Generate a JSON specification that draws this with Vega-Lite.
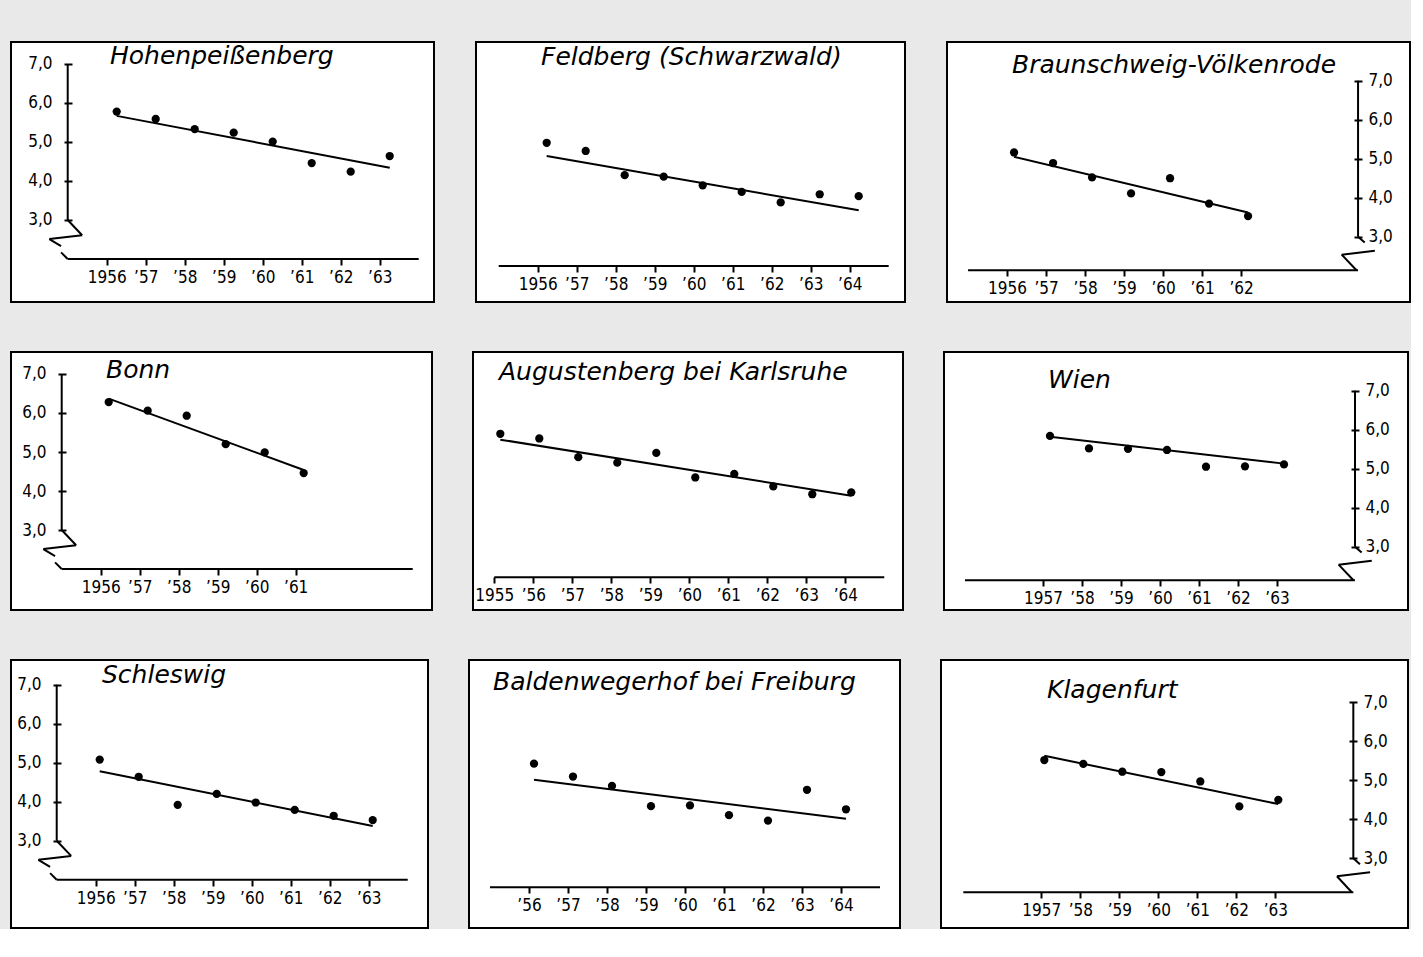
{
  "$schema": "https://vega.github.io/schema/vega-lite/v6.json",
  "background": "#e9e9e9",
  "padding": {"left": 10, "top": 41, "right": 0, "bottom": 0},
  "datasets": {
    "points": [
      {"station": "Hohenpeißenberg", "year": 1956, "value": 5.78},
      {"station": "Hohenpeißenberg", "year": 1957, "value": 5.59},
      {"station": "Hohenpeißenberg", "year": 1958, "value": 5.33},
      {"station": "Hohenpeißenberg", "year": 1959, "value": 5.24},
      {"station": "Hohenpeißenberg", "year": 1960, "value": 5.01},
      {"station": "Hohenpeißenberg", "year": 1961, "value": 4.46},
      {"station": "Hohenpeißenberg", "year": 1962, "value": 4.24},
      {"station": "Hohenpeißenberg", "year": 1963, "value": 4.64},
      {"station": "Feldberg (Schwarzwald)", "year": 1956, "value": 5.16},
      {"station": "Feldberg (Schwarzwald)", "year": 1957, "value": 4.95},
      {"station": "Feldberg (Schwarzwald)", "year": 1958, "value": 4.33},
      {"station": "Feldberg (Schwarzwald)", "year": 1959, "value": 4.29},
      {"station": "Feldberg (Schwarzwald)", "year": 1960, "value": 4.07},
      {"station": "Feldberg (Schwarzwald)", "year": 1961, "value": 3.9},
      {"station": "Feldberg (Schwarzwald)", "year": 1962, "value": 3.63},
      {"station": "Feldberg (Schwarzwald)", "year": 1963, "value": 3.84},
      {"station": "Feldberg (Schwarzwald)", "year": 1964, "value": 3.79},
      {"station": "Braunschweig-Völkenrode", "year": 1956, "value": 5.16},
      {"station": "Braunschweig-Völkenrode", "year": 1957, "value": 4.89},
      {"station": "Braunschweig-Völkenrode", "year": 1958, "value": 4.52},
      {"station": "Braunschweig-Völkenrode", "year": 1959, "value": 4.11},
      {"station": "Braunschweig-Völkenrode", "year": 1960, "value": 4.5},
      {"station": "Braunschweig-Völkenrode", "year": 1961, "value": 3.85},
      {"station": "Braunschweig-Völkenrode", "year": 1962, "value": 3.53},
      {"station": "Bonn", "year": 1956, "value": 6.28},
      {"station": "Bonn", "year": 1957, "value": 6.06},
      {"station": "Bonn", "year": 1958, "value": 5.93},
      {"station": "Bonn", "year": 1959, "value": 5.2},
      {"station": "Bonn", "year": 1960, "value": 4.99},
      {"station": "Bonn", "year": 1961, "value": 4.46},
      {"station": "Augustenberg bei Karlsruhe", "year": 1955, "value": 5.68},
      {"station": "Augustenberg bei Karlsruhe", "year": 1956, "value": 5.56},
      {"station": "Augustenberg bei Karlsruhe", "year": 1957, "value": 5.08},
      {"station": "Augustenberg bei Karlsruhe", "year": 1958, "value": 4.94},
      {"station": "Augustenberg bei Karlsruhe", "year": 1959, "value": 5.19},
      {"station": "Augustenberg bei Karlsruhe", "year": 1960, "value": 4.56},
      {"station": "Augustenberg bei Karlsruhe", "year": 1961, "value": 4.65},
      {"station": "Augustenberg bei Karlsruhe", "year": 1962, "value": 4.33},
      {"station": "Augustenberg bei Karlsruhe", "year": 1963, "value": 4.13},
      {"station": "Augustenberg bei Karlsruhe", "year": 1964, "value": 4.18},
      {"station": "Wien", "year": 1957, "value": 5.84},
      {"station": "Wien", "year": 1958, "value": 5.52},
      {"station": "Wien", "year": 1959, "value": 5.51},
      {"station": "Wien", "year": 1960, "value": 5.48},
      {"station": "Wien", "year": 1961, "value": 5.05},
      {"station": "Wien", "year": 1962, "value": 5.06},
      {"station": "Wien", "year": 1963, "value": 5.11},
      {"station": "Schleswig", "year": 1956, "value": 5.08},
      {"station": "Schleswig", "year": 1957, "value": 4.64},
      {"station": "Schleswig", "year": 1958, "value": 3.92},
      {"station": "Schleswig", "year": 1959, "value": 4.2},
      {"station": "Schleswig", "year": 1960, "value": 3.98},
      {"station": "Schleswig", "year": 1961, "value": 3.79},
      {"station": "Schleswig", "year": 1962, "value": 3.64},
      {"station": "Schleswig", "year": 1963, "value": 3.53},
      {"station": "Baldenwegerhof bei Freiburg", "year": 1956, "value": 5.17},
      {"station": "Baldenwegerhof bei Freiburg", "year": 1957, "value": 4.84},
      {"station": "Baldenwegerhof bei Freiburg", "year": 1958, "value": 4.6},
      {"station": "Baldenwegerhof bei Freiburg", "year": 1959, "value": 4.08},
      {"station": "Baldenwegerhof bei Freiburg", "year": 1960, "value": 4.1},
      {"station": "Baldenwegerhof bei Freiburg", "year": 1961, "value": 3.85},
      {"station": "Baldenwegerhof bei Freiburg", "year": 1962, "value": 3.71},
      {"station": "Baldenwegerhof bei Freiburg", "year": 1963, "value": 4.5},
      {"station": "Baldenwegerhof bei Freiburg", "year": 1964, "value": 4.0},
      {"station": "Klagenfurt", "year": 1957, "value": 5.52},
      {"station": "Klagenfurt", "year": 1958, "value": 5.42},
      {"station": "Klagenfurt", "year": 1959, "value": 5.22},
      {"station": "Klagenfurt", "year": 1960, "value": 5.21},
      {"station": "Klagenfurt", "year": 1961, "value": 4.97},
      {"station": "Klagenfurt", "year": 1962, "value": 4.33},
      {"station": "Klagenfurt", "year": 1963, "value": 4.5}
    ],
    "trend": [
      {"station": "Hohenpeißenberg", "year": 1956, "value": 5.67},
      {"station": "Hohenpeißenberg", "year": 1963, "value": 4.34},
      {"station": "Feldberg (Schwarzwald)", "year": 1956, "value": 4.82},
      {"station": "Feldberg (Schwarzwald)", "year": 1964, "value": 3.43},
      {"station": "Braunschweig-Völkenrode", "year": 1956, "value": 5.05},
      {"station": "Braunschweig-Völkenrode", "year": 1962, "value": 3.62},
      {"station": "Bonn", "year": 1956, "value": 6.37},
      {"station": "Bonn", "year": 1961, "value": 4.54},
      {"station": "Augustenberg bei Karlsruhe", "year": 1955, "value": 5.53},
      {"station": "Augustenberg bei Karlsruhe", "year": 1964, "value": 4.09},
      {"station": "Wien", "year": 1957, "value": 5.82},
      {"station": "Wien", "year": 1963, "value": 5.13},
      {"station": "Schleswig", "year": 1956, "value": 4.78},
      {"station": "Schleswig", "year": 1963, "value": 3.38},
      {"station": "Baldenwegerhof bei Freiburg", "year": 1956, "value": 4.76},
      {"station": "Baldenwegerhof bei Freiburg", "year": 1964, "value": 3.76},
      {"station": "Klagenfurt", "year": 1957, "value": 5.63},
      {"station": "Klagenfurt", "year": 1963, "value": 4.39}
    ]
  },
  "vconcat": [
    {
      "spacing": 40,
      "hconcat": [
        {
          "width": 423, "height": 260,
          "title": {"text": "Hohenpeißenberg", "dx": 99, "offset": -27},
          "layer": [
            {"data": {"name": "points"}, "transform": [{"filter": "datum.station == 'Hohenpeißenberg'"}],
             "mark": {"type": "circle", "xOffset": 10},
             "encoding": {
               "x": {"field": "year", "type": "quantitative", "scale": {"domain": [1953.546, 1964.392], "nice": false, "zero": false},
                     "axis": {"title": null, "values": [1956, 1957, 1958, 1959, 1960, 1961, 1962, 1963], "offset": -43, "labelExpr": "datum.value == 1956 ? '1956' : '’' + substring(toString(datum.value), 2)"}},
               "y": {"field": "value", "type": "quantitative", "scale": {"domain": [0.897, 7.564], "nice": false, "zero": false},
                     "axis": {"title": null, "values": [3, 4, 5, 6, 7], "orient": "left", "offset": -61, "labelPadding": 12, "labelExpr": "replace(format(datum.value, '.1f'), '.', ',')"}}
             }},
            {"data": {"name": "trend"}, "transform": [{"filter": "datum.station == 'Hohenpeißenberg'"}],
             "mark": {"type": "line", "xOffset": 10},
             "encoding": {"x": {"field": "year", "type": "quantitative"}, "y": {"field": "value", "type": "quantitative"}}},
            {"data": {"values": [{}]}, "mark": "rule", "encoding": {"x": {"datum": 1955, "type": "quantitative"}, "y": {"datum": 3, "type": "quantitative"}, "y2": {"datum": 7}}},
            {"data": {"values": [{}]}, "mark": "rule", "encoding": {"x": {"datum": 1955, "type": "quantitative"}, "x2": {"datum": 1964}, "y": {"datum": 2, "type": "quantitative"}}},
            {"data": {"values": [{}]}, "mark": "rule", "encoding": {"x": {"datum": 1955, "type": "quantitative"}, "x2": {"datum": 1955.37}, "y": {"datum": 3, "type": "quantitative"}, "y2": {"datum": 2.61}}},
            {"data": {"values": [{}]}, "mark": "rule", "encoding": {"x": {"datum": 1955.37, "type": "quantitative"}, "x2": {"datum": 1954.53}, "y": {"datum": 2.61, "type": "quantitative"}, "y2": {"datum": 2.51}}},
            {"data": {"values": [{}]}, "mark": "rule", "encoding": {"x": {"datum": 1954.53, "type": "quantitative"}, "x2": {"datum": 1954.83}, "y": {"datum": 2.51, "type": "quantitative"}, "y2": {"datum": 2.33}}},
            {"data": {"values": [{}]}, "mark": "rule", "encoding": {"x": {"datum": 1954.83, "type": "quantitative"}, "x2": {"datum": 1955}, "y": {"datum": 2.17, "type": "quantitative"}, "y2": {"datum": 2.0}}}
          ]
        },
        {
          "width": 429, "height": 260,
          "title": {"text": "Feldberg (Schwarzwald)", "dx": 65, "offset": -28},
          "layer": [
            {"data": {"name": "points"}, "transform": [{"filter": "datum.station == 'Feldberg (Schwarzwald)'"}],
             "mark": {"type": "circle", "xOffset": 9},
             "encoding": {
               "x": {"field": "year", "type": "quantitative", "scale": {"domain": [1954.418, 1965.418], "nice": false, "zero": false},
                     "axis": {"title": null, "values": [1956, 1957, 1958, 1959, 1960, 1961, 1962, 1963, 1964], "offset": -36, "labelExpr": "datum.value == 1956 ? '1956' : '’' + substring(toString(datum.value), 2)"}},
               "y": {"field": "value", "type": "quantitative", "scale": {"domain": [1.077, 7.744], "nice": false, "zero": false}, "axis": null}
             }},
            {"data": {"name": "trend"}, "transform": [{"filter": "datum.station == 'Feldberg (Schwarzwald)'"}],
             "mark": {"type": "line", "xOffset": 9},
             "encoding": {"x": {"field": "year", "type": "quantitative"}, "y": {"field": "value", "type": "quantitative", "axis": null}}},
            {"data": {"values": [{}]}, "mark": "rule", "encoding": {"x": {"datum": 1955, "type": "quantitative"}, "x2": {"datum": 1965}, "y": {"datum": 2, "type": "quantitative", "axis": null}}}
          ]
        },
        {
          "width": 463, "height": 260,
          "title": {"text": "Braunschweig-Völkenrode", "dx": 65, "offset": -36},
          "layer": [
            {"data": {"name": "points"}, "transform": [{"filter": "datum.station == 'Braunschweig-Völkenrode'"}],
             "mark": {"type": "circle", "xOffset": 7},
             "encoding": {
               "x": {"field": "year", "type": "quantitative", "scale": {"domain": [1954.46, 1966.332], "nice": false, "zero": false},
                     "axis": {"title": null, "values": [1956, 1957, 1958, 1959, 1960, 1961, 1962], "offset": -32, "labelExpr": "datum.value == 1956 ? '1956' : '’' + substring(toString(datum.value), 2)"}},
               "y": {"field": "value", "type": "quantitative", "scale": {"domain": [1.326, 7.993], "nice": false, "zero": false},
                     "axis": {"title": null, "values": [3, 4, 5, 6, 7], "orient": "right", "offset": -56, "labelPadding": 6, "labelExpr": "replace(format(datum.value, '.1f'), '.', ',')"}}
             }},
            {"data": {"name": "trend"}, "transform": [{"filter": "datum.station == 'Braunschweig-Völkenrode'"}],
             "mark": {"type": "line", "xOffset": 7},
             "encoding": {"x": {"field": "year", "type": "quantitative"}, "y": {"field": "value", "type": "quantitative"}}},
            {"data": {"values": [{}]}, "mark": "rule", "encoding": {"x": {"datum": 1965, "type": "quantitative"}, "y": {"datum": 3, "type": "quantitative"}, "y2": {"datum": 7}}},
            {"data": {"values": [{}]}, "mark": "rule", "encoding": {"x": {"datum": 1955, "type": "quantitative"}, "x2": {"datum": 1965}, "y": {"datum": 2.14, "type": "quantitative"}}},
            {"data": {"values": [{}]}, "mark": "rule", "encoding": {"x": {"datum": 1965, "type": "quantitative"}, "x2": {"datum": 1965.17}, "y": {"datum": 3, "type": "quantitative"}, "y2": {"datum": 2.85}}},
            {"data": {"values": [{}]}, "mark": "rule", "encoding": {"x": {"datum": 1965.43, "type": "quantitative"}, "x2": {"datum": 1964.58}, "y": {"datum": 2.64, "type": "quantitative"}, "y2": {"datum": 2.54}}},
            {"data": {"values": [{}]}, "mark": "rule", "encoding": {"x": {"datum": 1964.58, "type": "quantitative"}, "x2": {"datum": 1964.96}, "y": {"datum": 2.54, "type": "quantitative"}, "y2": {"datum": 2.14}}}
          ]
        }
      ]
    },
    {
      "spacing": 39,
      "hconcat": [
        {
          "width": 421, "height": 258,
          "title": {"text": "Bonn", "dx": 95, "offset": -31},
          "layer": [
            {"data": {"name": "points"}, "transform": [{"filter": "datum.station == 'Bonn'"}],
             "mark": {"type": "circle", "xOffset": 8},
             "encoding": {
               "x": {"field": "year", "type": "quantitative", "scale": {"domain": [1953.7, 1964.495], "nice": false, "zero": false},
                     "axis": {"title": null, "values": [1956, 1957, 1958, 1959, 1960, 1961], "offset": -41, "labelExpr": "datum.value == 1956 ? '1956' : '’' + substring(toString(datum.value), 2)"}},
               "y": {"field": "value", "type": "quantitative", "scale": {"domain": [0.949, 7.564], "nice": false, "zero": false},
                     "axis": {"title": null, "values": [3, 4, 5, 6, 7], "orient": "left", "offset": -55, "labelPadding": 12, "labelExpr": "replace(format(datum.value, '.1f'), '.', ',')"}}
             }},
            {"data": {"name": "trend"}, "transform": [{"filter": "datum.station == 'Bonn'"}],
             "mark": {"type": "line", "xOffset": 8},
             "encoding": {"x": {"field": "year", "type": "quantitative"}, "y": {"field": "value", "type": "quantitative"}}},
            {"data": {"values": [{}]}, "mark": "rule", "encoding": {"x": {"datum": 1955, "type": "quantitative"}, "y": {"datum": 3, "type": "quantitative"}, "y2": {"datum": 7}}},
            {"data": {"values": [{}]}, "mark": "rule", "encoding": {"x": {"datum": 1955, "type": "quantitative"}, "x2": {"datum": 1964}, "y": {"datum": 2, "type": "quantitative"}}},
            {"data": {"values": [{}]}, "mark": "rule", "encoding": {"x": {"datum": 1955, "type": "quantitative"}, "x2": {"datum": 1955.37}, "y": {"datum": 3, "type": "quantitative"}, "y2": {"datum": 2.61}}},
            {"data": {"values": [{}]}, "mark": "rule", "encoding": {"x": {"datum": 1955.37, "type": "quantitative"}, "x2": {"datum": 1954.53}, "y": {"datum": 2.61, "type": "quantitative"}, "y2": {"datum": 2.51}}},
            {"data": {"values": [{}]}, "mark": "rule", "encoding": {"x": {"datum": 1954.53, "type": "quantitative"}, "x2": {"datum": 1954.83}, "y": {"datum": 2.51, "type": "quantitative"}, "y2": {"datum": 2.33}}},
            {"data": {"values": [{}]}, "mark": "rule", "encoding": {"x": {"datum": 1954.83, "type": "quantitative"}, "x2": {"datum": 1955}, "y": {"datum": 2.17, "type": "quantitative"}, "y2": {"datum": 2.0}}}
          ]
        },
        {
          "width": 430, "height": 258,
          "title": {"text": "Augustenberg bei Karlsruhe", "dx": 26, "offset": -33},
          "layer": [
            {"data": {"name": "points"}, "transform": [{"filter": "datum.station == 'Augustenberg bei Karlsruhe'"}],
             "mark": {"type": "circle", "xOffset": 6},
             "encoding": {
               "x": {"field": "year", "type": "quantitative", "scale": {"domain": [1954.454, 1965.48], "nice": false, "zero": false},
                     "axis": {"title": null, "values": [1955, 1956, 1957, 1958, 1959, 1960, 1961, 1962, 1963, 1964], "offset": -33, "labelExpr": "datum.value == 1955 ? '1955' : '’' + substring(toString(datum.value), 2)"}},
               "y": {"field": "value", "type": "quantitative", "scale": {"domain": [1.162, 7.777], "nice": false, "zero": false}, "axis": null}
             }},
            {"data": {"name": "trend"}, "transform": [{"filter": "datum.station == 'Augustenberg bei Karlsruhe'"}],
             "mark": {"type": "line", "xOffset": 6},
             "encoding": {"x": {"field": "year", "type": "quantitative"}, "y": {"field": "value", "type": "quantitative", "axis": null}}},
            {"data": {"values": [{}]}, "mark": "rule", "encoding": {"x": {"datum": 1955, "type": "quantitative"}, "x2": {"datum": 1965}, "y": {"datum": 2, "type": "quantitative", "axis": null}}}
          ]
        },
        {
          "width": 464, "height": 258,
          "title": {"text": "Wien", "dx": 104, "offset": -41},
          "layer": [
            {"data": {"name": "points"}, "transform": [{"filter": "datum.station == 'Wien'"}],
             "mark": {"type": "circle", "xOffset": 7},
             "encoding": {
               "x": {"field": "year", "type": "quantitative", "scale": {"domain": [1954.462, 1966.359], "nice": false, "zero": false},
                     "axis": {"title": null, "values": [1957, 1958, 1959, 1960, 1961, 1962, 1963], "offset": -30, "labelExpr": "datum.value == 1957 ? '1957' : '’' + substring(toString(datum.value), 2)"}},
               "y": {"field": "value", "type": "quantitative", "scale": {"domain": [1.377, 7.992], "nice": false, "zero": false},
                     "axis": {"title": null, "values": [3, 4, 5, 6, 7], "orient": "right", "offset": -57, "labelPadding": 6, "labelExpr": "replace(format(datum.value, '.1f'), '.', ',')"}}
             }},
            {"data": {"name": "trend"}, "transform": [{"filter": "datum.station == 'Wien'"}],
             "mark": {"type": "line", "xOffset": 7},
             "encoding": {"x": {"field": "year", "type": "quantitative"}, "y": {"field": "value", "type": "quantitative"}}},
            {"data": {"values": [{}]}, "mark": "rule", "encoding": {"x": {"datum": 1965, "type": "quantitative"}, "y": {"datum": 3, "type": "quantitative"}, "y2": {"datum": 7}}},
            {"data": {"values": [{}]}, "mark": "rule", "encoding": {"x": {"datum": 1955, "type": "quantitative"}, "x2": {"datum": 1965}, "y": {"datum": 2.14, "type": "quantitative"}}},
            {"data": {"values": [{}]}, "mark": "rule", "encoding": {"x": {"datum": 1965, "type": "quantitative"}, "x2": {"datum": 1965.17}, "y": {"datum": 3, "type": "quantitative"}, "y2": {"datum": 2.85}}},
            {"data": {"values": [{}]}, "mark": "rule", "encoding": {"x": {"datum": 1965.43, "type": "quantitative"}, "x2": {"datum": 1964.58}, "y": {"datum": 2.64, "type": "quantitative"}, "y2": {"datum": 2.54}}},
            {"data": {"values": [{}]}, "mark": "rule", "encoding": {"x": {"datum": 1964.58, "type": "quantitative"}, "x2": {"datum": 1964.96}, "y": {"datum": 2.54, "type": "quantitative"}, "y2": {"datum": 2.14}}}
          ]
        }
      ]
    },
    {
      "spacing": 39,
      "hconcat": [
        {
          "width": 417, "height": 268,
          "title": {"text": "Schleswig", "dx": 91, "offset": -28},
          "layer": [
            {"data": {"name": "points"}, "transform": [{"filter": "datum.station == 'Schleswig'"}],
             "mark": {"type": "circle", "xOffset": 4},
             "encoding": {
               "x": {"field": "year", "type": "quantitative", "scale": {"domain": [1953.828, 1964.52], "nice": false, "zero": false},
                     "axis": {"title": null, "values": [1956, 1957, 1958, 1959, 1960, 1961, 1962, 1963], "offset": -48, "labelExpr": "datum.value == 1956 ? '1956' : '’' + substring(toString(datum.value), 2)"}},
               "y": {"field": "value", "type": "quantitative", "scale": {"domain": [0.762, 7.634], "nice": false, "zero": false},
                     "axis": {"title": null, "values": [3, 4, 5, 6, 7], "orient": "left", "offset": -50, "labelPadding": 12, "labelExpr": "replace(format(datum.value, '.1f'), '.', ',')"}}
             }},
            {"data": {"name": "trend"}, "transform": [{"filter": "datum.station == 'Schleswig'"}],
             "mark": {"type": "line", "xOffset": 4},
             "encoding": {"x": {"field": "year", "type": "quantitative"}, "y": {"field": "value", "type": "quantitative"}}},
            {"data": {"values": [{}]}, "mark": "rule", "encoding": {"x": {"datum": 1955, "type": "quantitative"}, "y": {"datum": 3, "type": "quantitative"}, "y2": {"datum": 7}}},
            {"data": {"values": [{}]}, "mark": "rule", "encoding": {"x": {"datum": 1955, "type": "quantitative"}, "x2": {"datum": 1964}, "y": {"datum": 2, "type": "quantitative"}}},
            {"data": {"values": [{}]}, "mark": "rule", "encoding": {"x": {"datum": 1955, "type": "quantitative"}, "x2": {"datum": 1955.37}, "y": {"datum": 3, "type": "quantitative"}, "y2": {"datum": 2.61}}},
            {"data": {"values": [{}]}, "mark": "rule", "encoding": {"x": {"datum": 1955.37, "type": "quantitative"}, "x2": {"datum": 1954.53}, "y": {"datum": 2.61, "type": "quantitative"}, "y2": {"datum": 2.51}}},
            {"data": {"values": [{}]}, "mark": "rule", "encoding": {"x": {"datum": 1954.53, "type": "quantitative"}, "x2": {"datum": 1954.83}, "y": {"datum": 2.51, "type": "quantitative"}, "y2": {"datum": 2.33}}},
            {"data": {"values": [{}]}, "mark": "rule", "encoding": {"x": {"datum": 1954.83, "type": "quantitative"}, "x2": {"datum": 1955}, "y": {"datum": 2.17, "type": "quantitative"}, "y2": {"datum": 2.0}}}
          ]
        },
        {
          "width": 431, "height": 268,
          "title": {"text": "Baldenwegerhof bei Freiburg", "dx": 24, "offset": -35},
          "layer": [
            {"data": {"name": "points"}, "transform": [{"filter": "datum.station == 'Baldenwegerhof bei Freiburg'"}],
             "mark": {"type": "circle", "xOffset": 5},
             "encoding": {
               "x": {"field": "year", "type": "quantitative", "scale": {"domain": [1954.462, 1965.513], "nice": false, "zero": false},
                     "axis": {"title": null, "values": [1956, 1957, 1958, 1959, 1960, 1961, 1962, 1963, 1964], "offset": -41, "labelExpr": "'’' + substring(toString(datum.value), 2)"}},
               "y": {"field": "value", "type": "quantitative", "scale": {"domain": [0.956, 7.828], "nice": false, "zero": false}, "axis": null}
             }},
            {"data": {"name": "trend"}, "transform": [{"filter": "datum.station == 'Baldenwegerhof bei Freiburg'"}],
             "mark": {"type": "line", "xOffset": 5},
             "encoding": {"x": {"field": "year", "type": "quantitative"}, "y": {"field": "value", "type": "quantitative", "axis": null}}},
            {"data": {"values": [{}]}, "mark": "rule", "encoding": {"x": {"datum": 1955, "type": "quantitative"}, "x2": {"datum": 1965}, "y": {"datum": 2, "type": "quantitative", "axis": null}}}
          ]
        },
        {
          "width": 467, "height": 268,
          "title": {"text": "Klagenfurt", "dx": 106, "offset": -43},
          "layer": [
            {"data": {"name": "points"}, "transform": [{"filter": "datum.station == 'Klagenfurt'"}],
             "mark": {"type": "circle", "xOffset": 3},
             "encoding": {
               "x": {"field": "year", "type": "quantitative", "scale": {"domain": [1954.428, 1966.402], "nice": false, "zero": false},
                     "axis": {"title": null, "values": [1957, 1958, 1959, 1960, 1961, 1962, 1963], "offset": -36, "labelExpr": "datum.value == 1957 ? '1957' : '’' + substring(toString(datum.value), 2)"}},
               "y": {"field": "value", "type": "quantitative", "scale": {"domain": [1.213, 8.085], "nice": false, "zero": false},
                     "axis": {"title": null, "values": [3, 4, 5, 6, 7], "orient": "right", "offset": -59, "labelPadding": 6, "labelExpr": "replace(format(datum.value, '.1f'), '.', ',')"}}
             }},
            {"data": {"name": "trend"}, "transform": [{"filter": "datum.station == 'Klagenfurt'"}],
             "mark": {"type": "line", "xOffset": 3},
             "encoding": {"x": {"field": "year", "type": "quantitative"}, "y": {"field": "value", "type": "quantitative"}}},
            {"data": {"values": [{}]}, "mark": "rule", "encoding": {"x": {"datum": 1965, "type": "quantitative"}, "y": {"datum": 3, "type": "quantitative"}, "y2": {"datum": 7}}},
            {"data": {"values": [{}]}, "mark": "rule", "encoding": {"x": {"datum": 1955, "type": "quantitative"}, "x2": {"datum": 1965}, "y": {"datum": 2.13, "type": "quantitative"}}},
            {"data": {"values": [{}]}, "mark": "rule", "encoding": {"x": {"datum": 1965, "type": "quantitative"}, "x2": {"datum": 1965.17}, "y": {"datum": 3, "type": "quantitative"}, "y2": {"datum": 2.85}}},
            {"data": {"values": [{}]}, "mark": "rule", "encoding": {"x": {"datum": 1965.43, "type": "quantitative"}, "x2": {"datum": 1964.58}, "y": {"datum": 2.64, "type": "quantitative"}, "y2": {"datum": 2.54}}},
            {"data": {"values": [{}]}, "mark": "rule", "encoding": {"x": {"datum": 1964.58, "type": "quantitative"}, "x2": {"datum": 1964.96}, "y": {"datum": 2.54, "type": "quantitative"}, "y2": {"datum": 2.13}}}
          ]
        }
      ]
    }
  ],
  "spacing": 48,
  "config": {
    "view": {"stroke": "black", "strokeWidth": 2, "fill": "white"},
    "title": {"font": "DejaVu Sans", "fontStyle": "italic", "fontWeight": "normal", "fontSize": 25, "color": "black", "anchor": "start", "frame": "group", "baseline": "alphabetic"},
    "axis": {"grid": false, "domain": false, "tickColor": "black", "tickWidth": 2, "labelColor": "black", "labelFont": "Liberation Sans Narrow, DejaVu Sans Condensed, Liberation Sans", "labelFontSize": 17, "labelFlush": false, "labelOverlap": false, "zindex": 1},
    "axisX": {"tickSize": 6, "labelPadding": 4},
    "axisY": {"tickSize": 8},
    "circle": {"color": "black", "size": 68, "opacity": 1},
    "line": {"color": "black", "strokeWidth": 2},
    "rule": {"color": "black", "strokeWidth": 2}
  }
}
